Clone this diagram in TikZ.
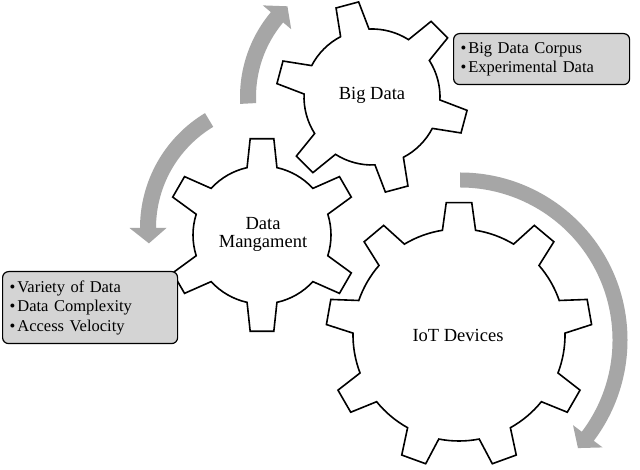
\documentclass[tikz,border=0pt]{standalone}
\usepackage{fontspec}
\setmainfont{Liberation Serif}
\definecolor{arrowgray}{RGB}{166,166,166}
\definecolor{boxgray}{RGB}{212,212,212}
\tikzset{
  gearline/.style={draw=black, line width=1.6pt, fill=white, line join=miter},
  curvedarrow/.style={fill=arrowgray, draw=none},
  infobox/.style={draw=black, line width=1.2pt, fill=boxgray, rounded corners=6pt,
    inner xsep=7pt, inner ysep=4pt, align=left, font=\fontsize{16.5}{19.5}\selectfont},
  gearlabel/.style={font=\fontsize{18.5}{18}\selectfont, align=center, inner sep=0pt},
}
% #1 cx, #2 cy, #3 teeth, #4 phase, #5 root radius, #6 tip radius, #7 root half-angle, #8 tip half-angle
\newcommand{\mygear}[8]{%
  \pgfmathsetmacro\gstep{360/#3}%
  \pgfmathtruncatemacro\glast{#3-1}%
  \begin{scope}[shift={(#1,#2)}]
    \draw[gearline] ({#4-#7}:#5pt)
      \foreach \k in {0,...,\glast}{
        -- ({#4+\gstep*\k-#7}:#5pt) -- ({#4+\gstep*\k-#8}:#6pt)
        -- ({#4+\gstep*\k+#8}:#6pt) -- ({#4+\gstep*\k+#7}:#5pt)
        arc[start angle={#4+\gstep*\k+#7}, end angle={#4+\gstep*(\k+1)-#7}, radius=#5pt]
      } -- cycle;
  \end{scope}}
% #1 cx, #2 cy, #3 radius, #4 start angle, #5 head base angle, #6 tip angle, #7 band half width, #8 head half width
\newcommand{\mycarrow}[8]{%
  \pgfmathsetmacro\aro{#3+#7}%
  \pgfmathsetmacro\ari{#3-#7}%
  \pgfmathsetmacro\aho{#3+#8}%
  \pgfmathsetmacro\ahi{#3-#8}%
  \begin{scope}[shift={(#1,#2)}]
    \fill[curvedarrow] (#4:\aro pt) arc[start angle=#4, end angle=#5, radius=\aro pt]
      -- (#5:\aho pt) -- (#6:#3pt) -- (#5:\ahi pt) -- (#5:\ari pt)
      arc[start angle=#5, end angle=#4, radius=\ari pt] -- cycle;
  \end{scope}}
\begin{document}
\begin{tikzpicture}[x=1pt, y=1pt]
  \fill[white] (0,0) rectangle (640,470);
  \useasboundingbox (0,0) rectangle (640,470);
  % curved arrows
  \mycarrow{372}{373}{124}{183}{140}{133}{8}{18.5}
  \mycarrow{274}{242}{126}{121}{180}{187}{8}{18.5}
  \mycarrow{460}{130}{160}{90}{-37}{-42.5}{7.5}{18.5}
  % gears
  \mygear{459}{135}{9}{90}{106}{133}{9}{5.5}
  \mygear{262}{235}{6}{90}{69}{97}{12.5}{7}
  \mygear{372}{373}{6}{45}{68}{96}{12.5}{7}
  % labels
  \node[gearlabel] (bigdata) at (372,375) {Big Data};
  \node[gearlabel] (datamgmt) at (263,235.5) {Data\\Mangament};
  \node[gearlabel] (iot) at (458,135) {IoT Devices};
  % boxes
  \node[infobox, anchor=north west, text width=162pt, minimum height=51pt] (box1) at (453,437)
    {•\hspace{2pt}Big Data Corpus\\•\hspace{2pt}Experimental Data};
  \node[infobox, anchor=north west, text width=161pt, minimum height=72pt] (box2) at (2,199)
    {•\hspace{2pt}Variety of Data\\•\hspace{2pt}Data Complexity\\•\hspace{2pt}Access Velocity};
\end{tikzpicture}
\end{document}
